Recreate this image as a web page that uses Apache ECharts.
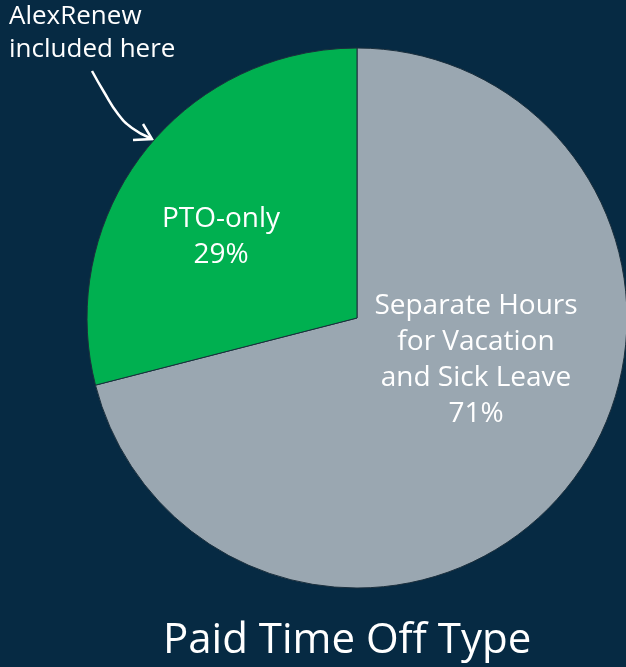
<!DOCTYPE html>
<html>
<head>
<meta charset="utf-8">
<script src="https://cdn.jsdelivr.net/npm/echarts@6/dist/echarts.min.js"></script>
<style>
  html, body { margin: 0; padding: 0; background: #062a43; }
  #chart { width: 626px; height: 667px; }
</style>
</head>
<body>
<div id="chart"></div>
<script>
// slices, clockwise from 12 o'clock
const categories = ['Separate Hours\nfor Vacation\nand Sick Leave', 'PTO-only']
const shares = [71, 29]
const sliceColors = ['#9aa7b1', '#00b050']
const labelSpots = [[476, 360], [221, 237]]

const chart = echarts.init(document.getElementById('chart'))

chart.setOption({
  backgroundColor: '#062a43',
  animation: false,
  title: {
    text: 'Paid Time Off Type',
    left: 158,
    top: 615,
    textStyle: {
      color: '#ffffff',
      fontSize: 42,
      fontWeight: 'normal',
      fontFamily: 'Open Sans'
    }
  },
  series: [
    {
      type: 'pie',
      center: [357, 318],
      radius: 270,
      startAngle: 90,
      clockwise: true,
      itemStyle: {
        borderColor: '#1b2f3d',
        borderWidth: 1
      },
      label: {
        show: true,
        position: 'inside',
        color: '#ffffff',
        fontSize: 28,
        lineHeight: 36,
        fontFamily: 'Open Sans',
        align: 'center',
        formatter: p => p.name + '\n' + p.value + '%'
      },
      labelLayout: p => ({
        x: labelSpots[p.dataIndex][0],
        y: labelSpots[p.dataIndex][1],
        align: 'center',
        verticalAlign: 'middle'
      }),
      data: categories.map((c, i) => ({
        name: c,
        value: shares[i],
        itemStyle: { color: sliceColors[i] }
      }))
    }
  ],
  graphic: [
    {
      type: 'text',
      left: 9,
      top: 0,
      style: {
        text: 'AlexRenew\nincluded here',
        fill: '#ffffff',
        fontSize: 26,
        lineHeight: 33,
        fontFamily: 'Open Sans'
      }
    },
    {
      type: 'polyline',
      shape: { points: [[92, 71], [104, 92], [118, 114], [132, 128], [150, 138]], smooth: 0.5 },
      style: { stroke: '#ffffff', lineWidth: 2.5, fill: null }
    },
    {
      type: 'polyline',
      shape: { points: [[143, 124], [152, 139], [133, 140]] },
      style: { stroke: '#ffffff', lineWidth: 2.5, fill: null }
    }
  ]
})
</script>
</body>
</html>
